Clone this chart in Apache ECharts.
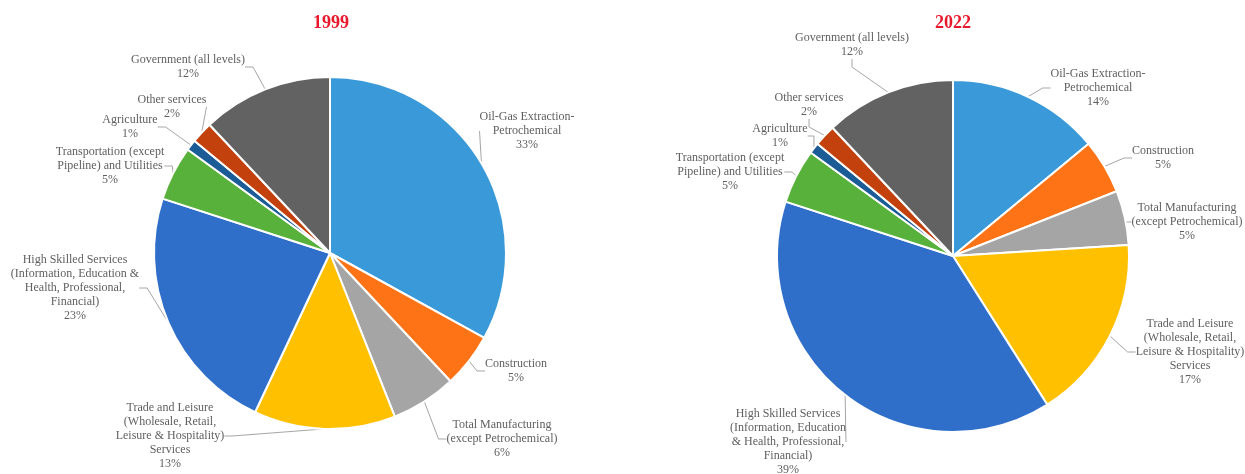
<!DOCTYPE html>
<html>
<head>
<meta charset="utf-8">
<script src="https://cdn.jsdelivr.net/npm/echarts@6/dist/echarts.min.js"></script>
<style>
  html, body { margin: 0; padding: 0; background: #fff; }
  #chart { width: 1245px; height: 474px; }
</style>
</head>
<body>
<div id="chart"></div>
<script>
// Sector shares of the economy, 1999 vs 2022 (percent)
const years = ['1999', '2022'];

const labels1999 = [
  'Oil-Gas Extraction-\nPetrochemical',
  'Construction',
  'Total Manufacturing\n(except Petrochemical)',
  'Trade and Leisure\n(Wholesale, Retail,\nLeisure & Hospitality)\nServices',
  'High Skilled Services\n(Information, Education &\nHealth, Professional,\nFinancial)',
  'Transportation (except\nPipeline) and Utilities',
  'Agriculture',
  'Other services',
  'Government (all levels)'
];
const labels2022 = [
  'Oil-Gas Extraction-\nPetrochemical',
  'Construction',
  'Total Manufacturing\n(except Petrochemical)',
  'Trade and Leisure\n(Wholesale, Retail,\nLeisure & Hospitality)\nServices',
  'High Skilled Services\n(Information, Education\n& Health, Professional,\nFinancial)',
  'Transportation (except\nPipeline) and Utilities',
  'Agriculture',
  'Other services',
  'Government (all levels)'
];

const values1999 = [33, 5, 6, 13, 23, 5, 1, 2, 12];
const values2022 = [14, 5, 5, 17, 39, 5, 1, 2, 12];

const sectorColors = ['#3a9ad9', '#fe7315', '#a5a5a5', '#ffc000', '#2f6fc9',
                      '#58b13a', '#1b5c97', '#c2410c', '#626262'];

// label anchor points (centre of each text block) for each pie
const spots1999 = [[527, 131], [516, 371], [502, 439], [170, 436], [75, 288],
                   [110, 166], [130, 127], [172, 107], [188, 67]];
const spots2022 = [[1098, 88], [1163, 158], [1187, 222], [1190, 352], [788, 442],
                   [730, 172], [780, 136], [809, 105], [852, 45]];

const FONT = '"Liberation Serif", "DejaVu Serif", serif';

function pieSeries(names, values, center, spots) {
  return {
    type: 'pie',
    center: center,
    radius: 176,
    startAngle: 90,
    clockwise: true,
    avoidLabelOverlap: false,
    data: names.map((n, i) => ({
      name: n,
      value: values[i],
      itemStyle: { color: sectorColors[i] }
    })),
    itemStyle: { borderColor: '#ffffff', borderWidth: 2 },
    label: {
      show: true,
      position: 'outside',
      formatter: '{b}\n{c}%',
      color: '#5f5f5f',
      fontFamily: FONT,
      fontSize: 12,
      lineHeight: 14,
      align: 'center'
    },
    labelLine: {
      show: true,
      length: 10,
      length2: 8,
      lineStyle: { color: '#a6a6a6', width: 1 }
    },
    labelLayout: function (p) {
      const s = spots[p.dataIndex];
      return { x: s[0], y: s[1], align: 'center', verticalAlign: 'middle' };
    },
    emphasis: { disabled: true },
    animation: false
  };
}

const chart = echarts.init(document.getElementById('chart'), null, { renderer: 'canvas' });
chart.setOption({
  backgroundColor: '#ffffff',
  title: [
    { text: years[0], left: 326, top: 9, textAlign: 'center',
      textStyle: { color: '#e8192c', fontFamily: FONT, fontWeight: 'bold', fontSize: 18 } },
    { text: years[1], left: 948, top: 9, textAlign: 'center',
      textStyle: { color: '#e8192c', fontFamily: FONT, fontWeight: 'bold', fontSize: 18 } }
  ],
  series: [
    pieSeries(labels1999, values1999, [330, 253], spots1999),
    pieSeries(labels2022, values2022, [953, 256], spots2022)
  ]
});
</script>
</body>
</html>
